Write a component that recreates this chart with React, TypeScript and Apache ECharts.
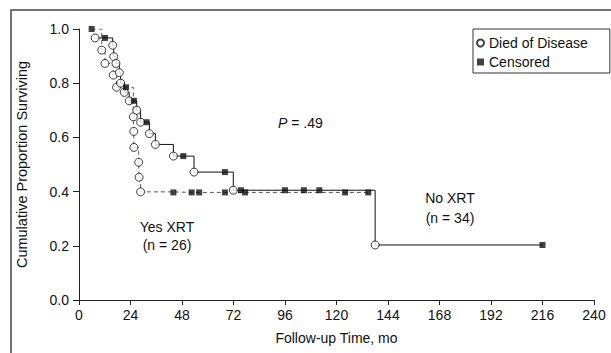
import React, { useEffect, useRef } from "react";
import * as echarts from "echarts";

// Axis settings
const X_MIN = 0;
const X_MAX = 240;
const X_STEP = 24;
const Y_MIN = 0;
const Y_MAX = 1;
const Y_STEP = 0.2;

// No XRT (n = 34): time (mo), survival, died (1) / censored (0)
const noTime = [7.5, 12.1, 15.7, 16.2, 17.2, 18.8, 19.4, 21.1, 23.4, 25.6, 26.9, 28.7, 31.5, 32.8, 35.6, 44, 48.6, 53.6, 68, 71.9, 75.5, 96, 104.8, 112, 138, 216];
const noSurv = [0.967, 0.967, 0.94, 0.898, 0.873, 0.839, 0.8, 0.766, 0.735, 0.735, 0.7, 0.656, 0.656, 0.614, 0.574, 0.531, 0.531, 0.472, 0.472, 0.405, 0.405, 0.405, 0.405, 0.405, 0.203, 0.203];
const noDied = [1, 0, 1, 1, 1, 1, 1, 1, 1, 0, 1, 1, 0, 1, 1, 1, 0, 1, 0, 1, 0, 0, 0, 0, 1, 0];

// Yes XRT (n = 26)
const yesTime = [5.9, 10.6, 12.1, 16, 17.5, 21.9, 25.3, 25.5, 25.6, 27.8, 28, 28.7, 44, 52.5, 56, 68, 77.4, 124, 134.8];
const yesSurv = [1.0, 0.922, 0.873, 0.83, 0.785, 0.785, 0.676, 0.622, 0.563, 0.508, 0.453, 0.399, 0.397, 0.397, 0.397, 0.397, 0.397, 0.397, 0.397];
const yesDied = [0, 1, 1, 1, 1, 0, 1, 1, 1, 1, 1, 1, 0, 0, 0, 0, 0, 0, 0];

const FONT = '"Liberation Sans", Arial, sans-serif';
const FS = 14;
const INK = "#111";

function linePts(t: number[], s: number[]) {
  return t.map((x, i) => [x, s[i]]);
}
function pick(t: number[], s: number[], d: number[], flag: number) {
  const out: number[][] = [];
  t.forEach((x, i) => {
    if (d[i] === flag) out.push([x, s[i]]);
  });
  return out;
}

export default function App() {
  const ref = useRef<HTMLDivElement>(null);
  useEffect(() => {
    if (!ref.current) return;
    const chart = echarts.init(ref.current, undefined, { renderer: "svg" });
    const deaths = [...pick(yesTime, yesSurv, yesDied, 1), ...pick(noTime, noSurv, noDied, 1)];
    const censored = [...pick(yesTime, yesSurv, yesDied, 0), ...pick(noTime, noSurv, noDied, 0)];
    const txt = (text: string, x: number, y: number, align = "center") => ({
      type: "text",
      x,
      y,
      style: { text, fontSize: FS, fontFamily: FONT, fill: INK, align, verticalAlign: "middle" },
    });
    chart.setOption({
      animation: false,
      backgroundColor: "#fff",
      textStyle: { fontFamily: FONT },
      grid: { left: 79, right: 17, top: 29, bottom: 53 },
      xAxis: {
        type: "value",
        min: X_MIN,
        max: X_MAX,
        interval: X_STEP,
        name: "Follow-up Time, mo",
        nameLocation: "middle",
        nameGap: 31,
        nameTextStyle: { fontSize: FS, color: INK, fontFamily: FONT },
        axisLine: { show: true, lineStyle: { color: "#222", width: 1 } },
        axisTick: { show: true, length: 5, lineStyle: { color: "#222", width: 1 } },
        axisLabel: { fontSize: FS, color: INK, margin: 8, fontFamily: FONT },
        splitLine: { show: false },
      },
      yAxis: {
        type: "value",
        min: Y_MIN,
        max: Y_MAX,
        interval: Y_STEP,
        name: "Cumulative Proportion Surviving",
        nameLocation: "middle",
        nameGap: 50,
        nameTextStyle: { fontSize: 14.5, color: INK, fontFamily: FONT },
        axisLine: { show: true, lineStyle: { color: "#222", width: 1 } },
        axisTick: { show: true, length: 6, lineStyle: { color: "#222", width: 1 } },
        axisLabel: { fontSize: FS, color: INK, margin: 10, fontFamily: FONT, formatter: (v: number) => v.toFixed(1) },
        splitLine: { show: false },
      },
      legend: {
        orient: "vertical",
        left: 473,
        top: 29,
        itemWidth: 7,
        itemHeight: 7,
        itemGap: 5,
        padding: [7, 22, 4, 3],
        borderColor: "#333",
        borderWidth: 1,
        borderRadius: 0,
        textStyle: { fontSize: FS, color: INK, fontFamily: FONT },
        data: [
          { name: "Died of Disease", icon: "circle" },
          { name: "Censored", icon: "rect" },
        ],
      },
      series: [
        {
          name: "No XRT",
          type: "line",
          step: "end",
          data: linePts(noTime, noSurv),
          showSymbol: false,
          silent: true,
          lineStyle: { color: INK, width: 1 },
          z: 2,
        },
        {
          name: "Yes XRT",
          type: "line",
          step: "end",
          data: linePts(yesTime, yesSurv),
          showSymbol: false,
          silent: true,
          lineStyle: { color: "#555", width: 1, type: [4, 3] },
          z: 2,
        },
        {
          name: "Died of Disease",
          type: "scatter",
          data: deaths,
          symbol: "circle",
          symbolSize: 8,
          itemStyle: { color: "#fff", borderColor: INK, borderWidth: 1 },
          z: 3,
        },
        {
          name: "Censored",
          type: "scatter",
          data: censored,
          symbol: "rect",
          symbolSize: 6,
          itemStyle: { color: INK },
          z: 4,
        },
      ],
      graphic: [
        {
          type: "rect",
          shape: { x: 11, y: 10, width: 700, height: 400 },
          style: { fill: "none", stroke: "#444", lineWidth: 1.5 },
          silent: true,
        },
        {
          type: "text",
          x: 278,
          y: 123,
          style: {
            text: "{i|P} = .49",
            rich: { i: { fontStyle: "italic", fontSize: FS, fontFamily: FONT, fill: INK } },
            fontSize: FS,
            fontFamily: FONT,
            fill: INK,
            verticalAlign: "middle",
          },
        },
        txt("Yes XRT", 167, 227),
        txt("(n = 26)", 167, 245),
        txt("No XRT", 450, 198),
        txt("(n = 34)", 450, 218),
      ],
    });
    return () => chart.dispose();
  }, []);
  return <div ref={ref} style={{ position: "fixed", left: 0, top: 0, width: 611, height: 353 }} />;
}
